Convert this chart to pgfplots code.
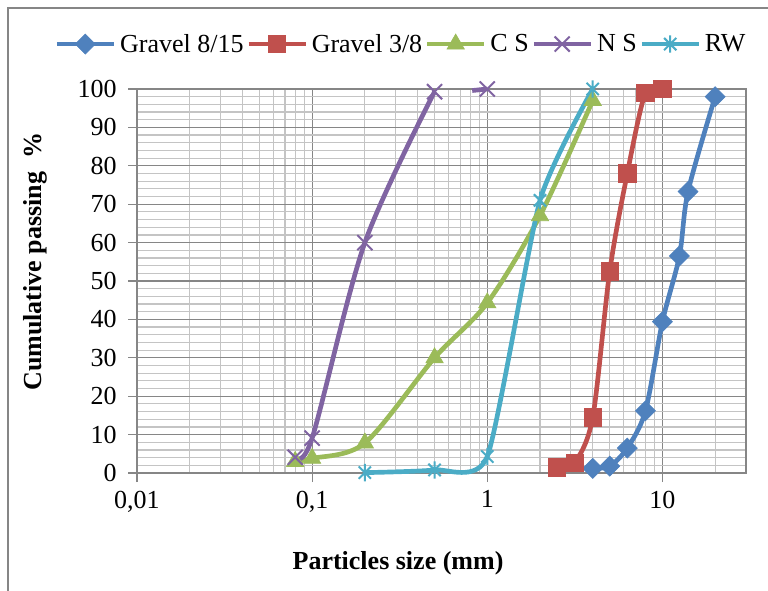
\documentclass[border=0pt]{standalone}
\usepackage{fontspec}
\setmainfont{Liberation Serif}
\usepackage{pgfplots}
\pgfplotsset{compat=1.18}
\definecolor{cB}{HTML}{4F81BD}
\definecolor{cR}{HTML}{C0504D}
\definecolor{cG}{HTML}{9BBB59}
\definecolor{cP}{HTML}{8064A2}
\definecolor{cC}{HTML}{4BACC6}
\definecolor{gridmaj}{HTML}{868686}
\definecolor{gridmin}{HTML}{C4C4C4}
\pgfdeclareplotmark{xstar}{%
  \pgfpathmoveto{\pgfqpoint{-.7071\pgfplotmarksize}{-.7071\pgfplotmarksize}}%
  \pgfpathlineto{\pgfqpoint{.7071\pgfplotmarksize}{.7071\pgfplotmarksize}}%
  \pgfpathmoveto{\pgfqpoint{-.7071\pgfplotmarksize}{.7071\pgfplotmarksize}}%
  \pgfpathlineto{\pgfqpoint{.7071\pgfplotmarksize}{-.7071\pgfplotmarksize}}%
  \pgfpathmoveto{\pgfqpoint{0pt}{-\pgfplotmarksize}}%
  \pgfpathlineto{\pgfqpoint{0pt}{\pgfplotmarksize}}%
  \pgfusepathqstroke}
\begin{document}
\begin{tikzpicture}[font=\fontsize{19.5}{22}\selectfont]
\begin{axis}[
  at={(0pt,0pt)}, anchor=south west,
  scale only axis, width=456.75pt, height=288pt,
  xmode=log, log basis x=10,
  xmin=0.01, xmax=30, ymin=0, ymax=100,
  xtick={0.01,0.1,1,10}, xticklabels={{0,01},{0,1},1,10},
  minor xtick={0.02,0.03,0.04,0.05,0.06,0.07,0.08,0.09,0.2,0.3,0.4,0.5,0.6,0.7,0.8,0.9,2,3,4,5,6,7,8,9,20,30},
  ytick={0,10,...,100}, minor ytick={2,4,...,98},
  grid=both,
  major grid style={draw=gridmaj, line width=0.8pt},
  minor grid style={draw=gridmin, line width=0.9pt},
  axis line style={draw=gridmaj, line width=0.8pt},
  every tick/.style={draw=gridmaj, line width=0.8pt},
  major tick length=6.75pt, minor tick length=0pt,
  tick align=outside, xtick pos=lower, ytick pos=left,
  /pgf/number format/assume math mode=true,
  ticklabel style={font=\fontsize{19.5}{22}\selectfont},
  xticklabel style={yshift=-3pt},
  yticklabel style={xshift=-5pt},
  xlabel={\bfseries Particles size (mm)},
  ylabel={\bfseries Cumulative passing\ \ \%},
  xlabel style={at={(axis description cs:0.4286,-0.234)}, anchor=center},
  ylabel style={at={(axis description cs:-0.1675,0.55)}, anchor=center, rotate=0},
  clip=false,
  legend columns=5,
  legend style={at={(axis description cs:0.434,1.117)}, anchor=center, draw=none, fill=none,
    font=\fontsize{19.5}{22}\selectfont,
    /tikz/every even column/.append style={column sep=0pt},
    /tikz/every odd column/.append style={column sep=1pt}},
  legend image code/.code={\draw[mark repeat=2,mark phase=2] plot coordinates {(0cm,0cm)(0.75cm,0cm)(1.5cm,0cm)};},
  every axis plot/.append style={smooth, tension=0.5, line width=3.5pt},
]
\addplot[cB, mark=square*, mark size=5.3pt, mark options={rotate=45, solid, line width=0.5pt}]
  coordinates {(4,1.2)(5,1.8)(6.3,6.5)(8,16.2)(10,39.4)(12.5,56.5)(14,73.3)(20,98)};
\addlegendentry{Gravel 8/15}
\addplot[cR, mark=square*, mark size=6.5pt, mark options={solid, line width=0.5pt}]
  coordinates {(2.5,1.5)(3.15,2.7)(4,14.5)(5,52.5)(6.3,78)(8,99)(10,100)};
\addlegendentry{Gravel 3/8}
\addplot[cG, mark=triangle*, mark size=7.5pt, mark options={solid, line width=0.5pt}]
  coordinates {(0.08,3)(0.1,3.8)(0.2,7.8)(0.5,30)(1,44.3)(2,67)(4,97)};
\addlegendentry{C S}
\addplot[cP, mark=x, mark size=8pt, mark options={solid, line width=1.5pt}]
  coordinates {(0.08,4.1)(0.1,9.1)(0.2,60)(0.5,99.3)};
\addlegendentry{N S}
\addplot[cP, forget plot, mark=x, mark size=8pt, mark options={solid, line width=1.5pt}, mark indices={2}]
  coordinates {(0.82,99.6)(1,100)};
\addplot[cC, tension=0.35, mark=xstar, mark size=6.5pt, mark options={solid, line width=1.5pt}]
  coordinates {(0.2,0.1)(0.5,0.8)(1,4.3)(2,71)(4,100)};
\addlegendentry{RW}
\end{axis}
\pgfresetboundingbox
\path[use as bounding box] (-102.75pt,-87.75pt) rectangle (473.25pt,354.75pt);
\draw[gridmaj, line width=1.5pt] (-96.75pt,-90pt) -- (-96.75pt,348.75pt) -- (480pt,348.75pt);
\end{tikzpicture}
\end{document}
